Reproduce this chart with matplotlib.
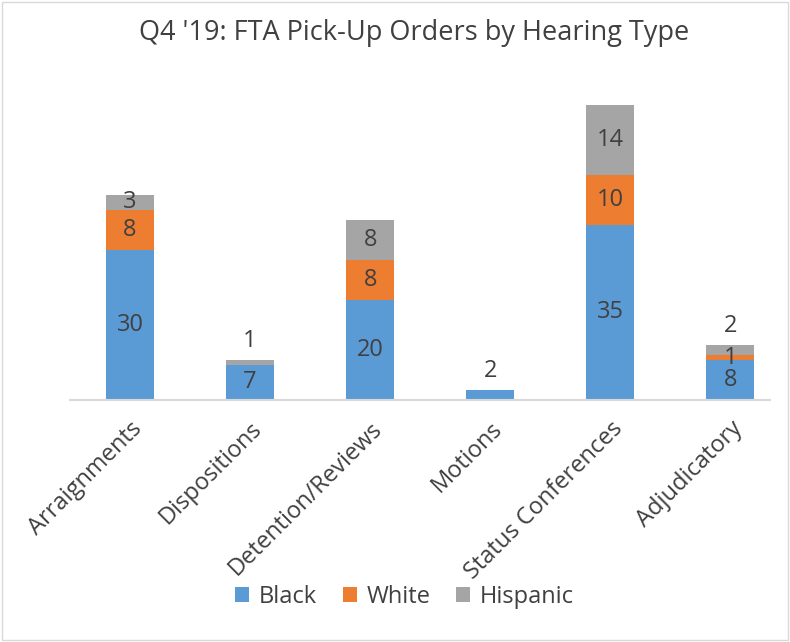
import numpy as np
import matplotlib.pyplot as plt
from matplotlib.patches import Rectangle

plt.rcParams['font.family'] = ['Open Sans', 'DejaVu Sans']

categories = ['Arraignments', 'Dispositions', 'Detention/Reviews', 'Motions',
              'Status Conferences', 'Adjudicatory']
black = [30, 7, 20, 2, 35, 8]
white = [8, 0, 8, 0, 10, 1]
hispanic = [3, 1, 8, 0, 14, 2]

series = [('Black', black, '#5B9BD5'),
          ('White', white, '#ED7D31'),
          ('Hispanic', hispanic, '#A5A5A5')]

txt = '#404040'

fig = plt.figure(figsize=(7.9, 6.42), dpi=100)
fig.patches.append(Rectangle((0.003, 0.003), 0.994, 0.994, transform=fig.transFigure,
                             fill=False, edgecolor='#D9D9D9', linewidth=1))
# baseline at y=400 px, 5 px per unit
ax = fig.add_axes([70 / 790, (642 - 400) / 642, 700 / 790, 325 / 642])

x = np.arange(len(categories))
bottom = np.zeros(len(categories))
totals = np.array(black) + np.array(white) + np.array(hispanic)
for name, vals, col in series:
    vals = np.array(vals)
    ax.bar(x, vals, 0.4, bottom=bottom, color=col, label=name)
    for i, v in enumerate(vals):
        if v == 0:
            continue
        if v < 3 and bottom[i] + v == totals[i] and name != 'White':
            # small top segment: label above the bar
            ax.text(x[i], totals[i] + 3.8, str(v), ha='center', va='center',
                    fontsize=17, color=txt)
        else:
            ax.text(x[i], bottom[i] + v / 2, str(v), ha='center', va='center',
                    fontsize=17, color=txt)
    bottom += vals

ax.set_xlim(-0.5, 5.33)
ax.set_ylim(0, 65)
ax.set_yticks([])
for s in ['top', 'right', 'left']:
    ax.spines[s].set_visible(False)
ax.spines['bottom'].set_color('#D9D9D9')
ax.spines['bottom'].set_linewidth(1.5)
ax.set_xticks(x)
ax.set_xticklabels(categories, rotation=45, ha='right', rotation_mode='anchor',
                   fontsize=17, color=txt)
ax.tick_params(axis='x', length=0, pad=12)

fig.text(0.524, 0.948, "Q4 '19: FTA Pick-Up Orders by Hearing Type", ha='center', va='center',
         fontsize=19.5, color=txt)

fig.legend(loc='center', bbox_to_anchor=(0.512, 1 - 597 / 642), ncol=3, frameon=False,
           fontsize=17, handlelength=0.6, handleheight=0.6, columnspacing=1.1,
           handletextpad=0.4, labelcolor=txt)

fig.savefig('out.png', dpi=100)
